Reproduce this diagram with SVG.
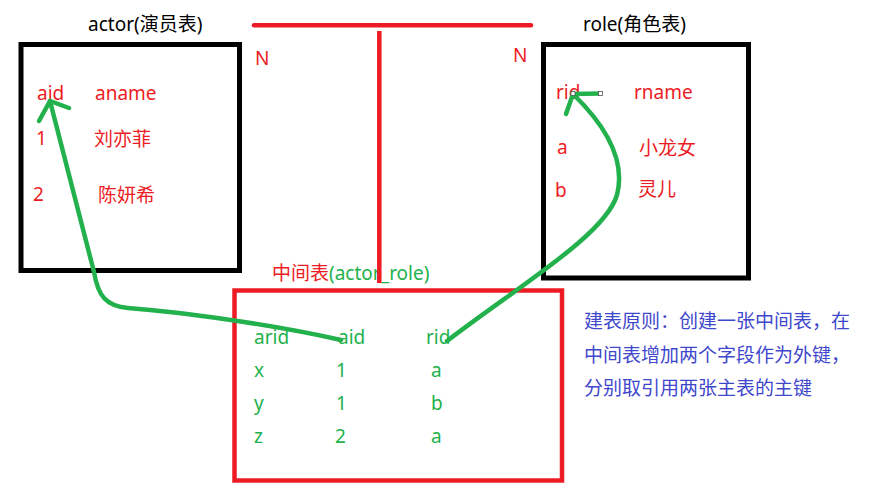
<svg xmlns="http://www.w3.org/2000/svg" width="879" height="491" viewBox="0 0 879 491">
<style>
text{font-family:"Microsoft YaHei","Noto Sans","Noto Sans CJK SC",sans-serif;font-size:19px}
.t{fill:#000}
.r{fill:#ed1c24}
.g{fill:#22b14c}
.b{fill:#3f48cc}
.box{fill:none;stroke:#000;stroke-width:5}
.rbox{fill:none;stroke:#ed1c24;stroke-width:4.5}
.rl{stroke:#ed1c24;stroke-width:4.5;stroke-linecap:round;fill:none}
.gl{stroke:#22b14c;stroke-width:4.5;fill:none;stroke-linecap:round;stroke-linejoin:round}
</style>
<rect width="879" height="491" fill="#fff"/>
<g id="actor">
<text class="t" x="88" y="31">actor(演员表)</text>
<rect class="box" x="21" y="44.5" width="218.5" height="226"/>
<text class="r" x="37" y="100">aid</text>
<text class="r" x="95" y="100">aname</text>
<text class="r" x="36" y="145">1</text>
<text class="r" x="94" y="146">刘亦菲</text>
<text class="r" x="33" y="201">2</text>
<text class="r" x="98" y="202">陈妍希</text>
</g>
<g id="role">
<text class="t" x="583" y="31">role(角色表)</text>
<rect class="box" x="543.5" y="44.5" width="205" height="233.5"/>
<text class="r" x="556" y="99">rid</text>
<text class="r" x="634" y="99">rname</text>
<text class="r" x="557" y="154">a</text>
<text class="r" x="639" y="155">小龙女</text>
<text class="r" x="555" y="197">b</text>
<text class="r" x="638" y="196">灵儿</text>
</g>
<g id="actor_role">
<text x="272" y="280"><tspan class="r">中间表</tspan><tspan class="g">(actor_role)</tspan></text>
<rect class="rbox" x="234.5" y="290.5" width="327.5" height="190"/>
<text class="g" x="254" y="344">arid</text>
<text class="g" x="338" y="344">aid</text>
<text class="g" x="426" y="344">rid</text>
<text class="g" x="254" y="377">x</text>
<text class="g" x="336" y="377">1</text>
<text class="g" x="431" y="377">a</text>
<text class="g" x="254" y="410">y</text>
<text class="g" x="336" y="410">1</text>
<text class="g" x="431" y="410">b</text>
<text class="g" x="254" y="443">z</text>
<text class="g" x="335" y="443">2</text>
<text class="g" x="431" y="443">a</text>
</g>
<g id="note">
<text class="b" x="584" y="328">建表原则：创建一张中间表，在</text>
<text class="b" x="584" y="362">中间表增加两个字段作为外键，</text>
<text class="b" x="584" y="395">分别取引用两张主表的主键</text>
</g>
<g id="connectors">
<line class="rl" x1="254" y1="25.3" x2="531" y2="25.3"/>
<line x1="379.3" y1="31" x2="379.3" y2="283" stroke="#ed1c24" stroke-width="4.5"/>
<text class="r" x="255" y="65" font-size="18">N</text>
<text class="r" x="513" y="62" font-size="18">N</text>
<path class="gl" d="M341,340 C 270,324 180,312 128,308 C 106,306 98,296 94,272 L50,101"/>
<path class="gl" d="M39,121 L50,101 L69,108"/>
<path class="gl" d="M447,341 C 520,285 605,235 617,195 C 626,160 605,125 573,94"/>
<path class="gl" d="M566,114 L573,94 L600,93.5"/>
<rect x="571" y="91.5" width="4" height="4" fill="#fff" stroke="#555" stroke-width="0.8"/>
<rect x="598.5" y="91.5" width="4" height="4" fill="#fff" stroke="#555" stroke-width="0.8"/>
</g>
</svg>
